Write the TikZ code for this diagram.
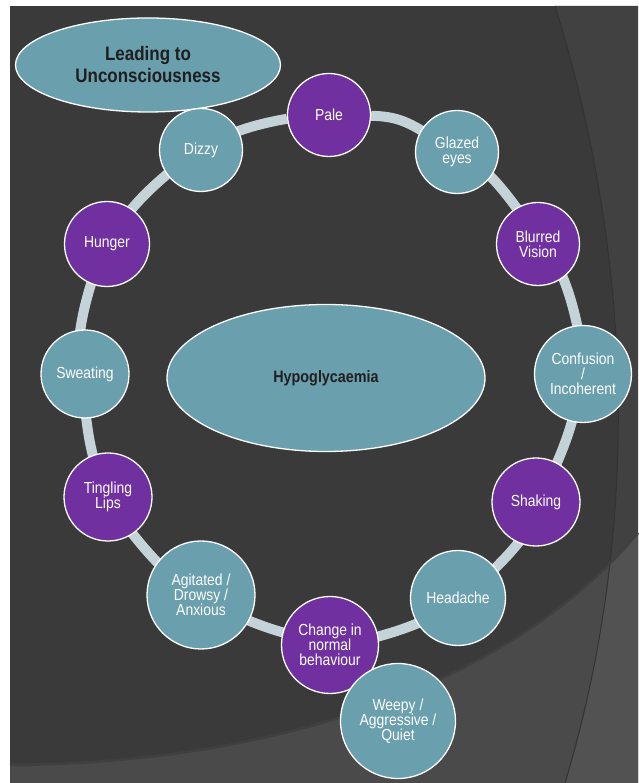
\documentclass[tikz,border=0pt]{standalone}
\usepackage{fontspec}
\setmainfont{Liberation Sans}
\newfontfamily\narrowsans[FakeStretch=0.87]{Liberation Sans}
\usetikzlibrary{shapes.geometric,backgrounds}

\definecolor{slide}{HTML}{3A3A3A}
\definecolor{slideside}{HTML}{414141}
\definecolor{floor}{HTML}{4A4A4A}
\definecolor{floorside}{HTML}{525252}
\definecolor{bubbleblue}{HTML}{6A9FAE}
\definecolor{bubblepurple}{HTML}{7030A0}
\definecolor{ringgrey}{HTML}{C4D3D8}

\begin{document}
\begin{tikzpicture}[x=1pt,y=1pt,
  ball/.style={circle,draw=white,line width=1.3pt,inner sep=0pt,text=white,
    align=center,font=\narrowsans\fontsize{16}{15}\selectfont},
  blueball/.style={ball,fill=bubbleblue},
  purpleball/.style={ball,fill=bubblepurple},
  oval/.style={ellipse,draw=white,line width=1.3pt,inner sep=0pt,
    fill=bubbleblue,text=black!88,align=center},
  ring/.style={ringgrey,line width=10pt}]
  \useasboundingbox (0,0) rectangle (638,783);

  \node[oval,minimum width=265,minimum height=94,
    font=\narrowsans\bfseries\fontsize{19.5}{22}\selectfont]
    (lead) at (148,718) {Leading to\\Unconsciousness};
  \node[oval,minimum width=318,minimum height=147,
    font=\narrowsans\bfseries\fontsize{16.5}{19}\selectfont]
    (hypo) at (326,405) {Hypoglycaemia};

  \node[purpleball,minimum size=83] (pale) at (329,668) {Pale};
  \node[blueball,minimum size=83] (glazed) at (457,631) {Glazed\\eyes};
  \node[purpleball,minimum size=83] (blurred) at (538,539) {Blurred\\Vision};
  \node[blueball,minimum size=97] (confusion) at (583,409) {Confusion\\/\\Incoherent};
  \node[purpleball,minimum size=88] (shaking) at (536,281) {Shaking};
  \node[blueball,minimum size=95] (headache) at (458,185) {Headache};
  \node[purpleball,minimum size=97] (change) at (330,138) {Change in\\normal\\behaviour};
  \node[blueball,minimum size=115] (weepy) at (398,62) {Weepy /\\Aggressive /\\Quiet};
  \node[blueball,minimum size=108] (agitated) at (201,188) {Agitated /\\Drowsy /\\Anxious};
  \node[purpleball,minimum size=88] (tingling) at (108,286) {Tingling\\Lips};
  \node[blueball,minimum size=88] (sweating) at (85,409) {Sweating};
  \node[purpleball,minimum size=85] (hunger) at (107,539) {Hunger};
  \node[blueball,minimum size=83] (dizzy) at (201,633) {Dizzy};

  \begin{scope}[on background layer]
    \fill[white] (0,0) rectangle (638,783);
    \fill[slide] (10,0) rectangle (638,777);
    \fill[slideside] (555,777) .. controls (635,520) and (640,250) .. (565,0)
      -- (638,0) -- (638,777) -- cycle;
    \fill[floor] (10,0) -- (10,18) .. controls (300,20) and (520,110) .. (638,250)
      -- (638,0) -- cycle;
    \begin{scope}
      \clip (10,0) -- (10,18) .. controls (300,20) and (520,110) .. (638,250)
        -- (638,0) -- cycle;
      \fill[floorside] (555,777) .. controls (635,520) and (640,250) .. (565,0)
        -- (638,0) -- (638,777) -- cycle;
    \end{scope}
    \draw[black!80,line width=1pt]
      (555,777) .. controls (635,520) and (640,250) .. (565,0);
    \draw[black!75,line width=2.5pt]
      (10,18) .. controls (300,20) and (520,110) .. (638,250);

    \draw[ring] (pale) to[bend left=15] (glazed) to[bend left=15] (blurred)
      to[bend left=15] (confusion) to[bend left=15] (shaking)
      to[bend left=15] (headache) to[bend left=15] (change)
      to[bend left=15] (agitated) to[bend left=15] (tingling)
      to[bend left=15] (sweating) to[bend left=15] (hunger)
      to[bend left=15] (dizzy) to[bend left=15] (pale);
  \end{scope}
\end{tikzpicture}
\end{document}
